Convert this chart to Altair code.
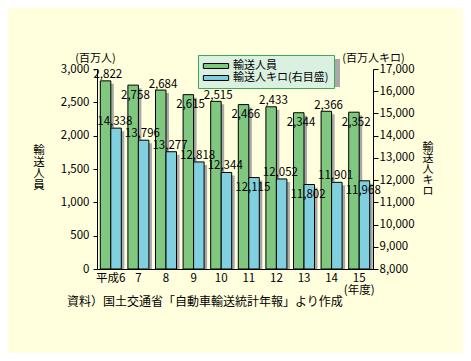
import altair as alt
import pandas as pd

F = "Noto Sans CJK JP"

years = ["平成6", "7", "8", "9", "10", "11", "12", "13", "14", "15"]
persons = [2822, 2758, 2684, 2615, 2515, 2466, 2433, 2344, 2366, 2352]
person_km = [14338, 13796, 13277, 12818, 12344, 12115, 12052, 11802, 11901, 11968]
series_names = ["輸送人員", "輸送人キロ(右目盛)"]
left_ticks = [0, 500, 1000, 1500, 2000, 2500, 3000]
right_ticks = [8000, 9000, 10000, 11000, 12000, 13000, 14000, 15000, 16000, 17000]
left_unit = "(百万人)"
right_unit = "(百万人キロ)"
left_title = ["輸", "送", "人", "員"]
right_title = ["輸", "送", "人", "キ", "ロ"]
source_text = "資料）国土交通省「自動車輸送統計年報」より作成"
fiscal_label = "(年度)"

GREEN = "#80C880"
BLUE = "#80D0E0"
SHADOW = "#A8A8A8"
BG = "#FFFFDD"

rows = []
for i, yr in enumerate(years):
    rows.append({"year": yr, "idx": i, "series": series_names[0], "value": persons[i]})
    rows.append({"year": yr, "idx": i, "series": series_names[1], "value": person_km[i]})
df = pd.DataFrame(rows)

x = alt.X(
    "year:N", sort=years,
    scale=alt.Scale(paddingInner=0, paddingOuter=0),
    axis=alt.Axis(title=None, labelAngle=0, ticks=False, domainColor="black",
                  labelPadding=3, labelLineHeight=12,
                  labelExpr="datum.value == '15' ? ['15', '" + fiscal_label + "'] : datum.value"),
)

color = alt.Color(
    "series:N",
    scale=alt.Scale(domain=series_names, range=[GREEN, BLUE]),
    legend=alt.Legend(title=None, orient="none", legendX=101, legendY=-14),
)

yL = alt.Y(
    "value:Q",
    scale=alt.Scale(domain=[0, 3000], nice=False, zero=True),
    axis=alt.Axis(values=left_ticks, labelExpr="format(datum.value, ',')", orient="left",
                  title=left_unit,
                  titleAngle=0, titleX=-2, titleY=-6, titleAlign="center",
                  titleBaseline="bottom", grid=False, tickSize=4, labelPadding=4,
                  domainColor="black", tickColor="black"),
)
yR = alt.Y(
    "value:Q",
    scale=alt.Scale(domain=[8000, 17000], nice=False, zero=False),
    axis=alt.Axis(values=right_ticks, labelExpr="format(datum.value, ',')", orient="right",
                  title=right_unit,
                  titleAngle=0, titleX=0, titleY=-6, titleAlign="center",
                  titleBaseline="bottom", grid=False, tickSize=5, labelPadding=1,
                  domainColor="black", tickColor="black"),
)

base = alt.Chart(df)
g = base.transform_filter(alt.datum.series == series_names[0])
b = base.transform_filter(alt.datum.series == series_names[1])

BW = 10.5
g_shadow = g.mark_bar(width=BW, xOffset=-BW / 2 + 3, yOffset=3, color=SHADOW, clip=True).encode(
    x=x, y=yL, y2=alt.datum(0))
g_bar = g.mark_bar(width=BW, xOffset=-BW / 2, stroke="black", strokeWidth=1).encode(
    x=x, y=yL, y2=alt.datum(0), color=color)
g_lab_up = g.transform_filter("datum.idx % 2 == 0").mark_text(
    font=F, fontSize=11.5, baseline="alphabetic", dy=-2.5, xOffset=-3, color="black").encode(
    x=x, y=yL, text=alt.Text("value:Q", format=","))
g_lab_dn = g.transform_filter("datum.idx % 2 == 1").mark_text(
    font=F, fontSize=11.5, baseline="alphabetic", dy=13.5, xOffset=-3, color="black").encode(
    x=x, y=yL, text=alt.Text("value:Q", format=","))
left = alt.layer(g_shadow, g_bar, g_lab_up, g_lab_dn)

b_shadow = b.mark_bar(width=BW, xOffset=BW / 2 + 3, yOffset=3, color=SHADOW, clip=True).encode(
    x=x, y=yR, y2=alt.datum(8000))
b_bar = b.mark_bar(width=BW, xOffset=BW / 2, stroke="black", strokeWidth=1).encode(
    x=x, y=yR, y2=alt.datum(8000), color=color)
b_lab_up = b.transform_filter("!(datum.idx >= 5 && datum.idx % 2 == 1)").mark_text(
    font=F, fontSize=11.5, baseline="alphabetic", dy=-3, xOffset=4, color="black").encode(
    x=x, y=yR, text=alt.Text("value:Q", format=","))
b_lab_dn = b.transform_filter("datum.idx >= 5 && datum.idx % 2 == 1").mark_text(
    font=F, fontSize=11.5, baseline="alphabetic", dy=13, xOffset=4, color="black").encode(
    x=x, y=yR, text=alt.Text("value:Q", format=","))
right = alt.layer(b_shadow, b_bar, b_lab_up, b_lab_dn)

ann = alt.Chart(pd.DataFrame({"t": [0]}))
legend_shadow = ann.mark_rect(color=SHADOW).encode(
    x=alt.value(105), x2=alt.value(243), y=alt.value(-10), y2=alt.value(18))
left_vt = ann.mark_text(font=F, fontSize=11.5, baseline="top", align="center", lineHeight=11.5,
                        color="black").encode(
    x=alt.value(-58), y=alt.value(76), text=alt.value(left_title))
right_vt = ann.mark_text(font=F, fontSize=11, baseline="top", align="center", lineHeight=11,
                         color="black").encode(
    x=alt.value(331), y=alt.value(73), text=alt.value(right_title))
src = ann.mark_text(font=F, fontSize=12, baseline="middle", align="left", color="black").encode(
    x=alt.value(-30), y=alt.value(233), text=alt.value(source_text))

chart = alt.layer(legend_shadow, left, right, left_vt, right_vt, src).resolve_scale(
    y="independent").properties(
    width=276, height=200,
    padding={"left": 89, "top": 61, "right": 90, "bottom": 84},
    autosize=alt.AutoSizeParams(type="none"),
    background=BG,
).configure_view(stroke=None).configure_axis(
    labelFont=F, titleFont=F, labelColor="black", titleColor="black",
    labelFontSize=11.5, titleFontSize=11, titleFontWeight="normal",
).configure_legend(
    fillColor="#DAF0E0", strokeColor="#3DAA55", padding=5, labelFont=F, labelFontSize=11,
    labelColor="black", symbolType="M-2.3,-0.45H2.3V0.45H-2.3Z", symbolSize=121,
    symbolStrokeColor="black", symbolStrokeWidth=1, rowPadding=1, labelOffset=11,
    symbolOffset=7, symbolOpacity=1,
)

chart.save("out.html", embed_options={"renderer": "svg", "actions": False})
